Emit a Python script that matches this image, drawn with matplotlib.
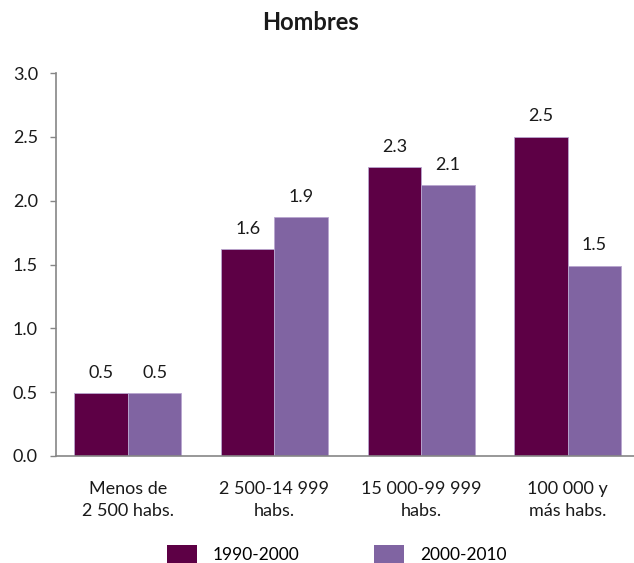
import matplotlib.pyplot as plt
import numpy as np
from matplotlib.patches import Patch

plt.rcParams['font.family'] = ['Lato', 'DejaVu Sans']

categorias = ["Menos de\n2 500 habs.", "2 500-14 999\nhabs.", "15 000-99 999\nhabs.", "100 000 y\nmás habs."]
periodos = ["1990-2000", "2000-2010"]
h_1990_2000 = [0.49, 1.62, 2.26, 2.50]
h_2000_2010 = [0.49, 1.87, 2.12, 1.49]

color_a = "#5D0045"
color_b = "#8064A2"
gris = "#868686"
texto = "#1a1a1a"

fig = plt.figure(figsize=(6.34, 5.63), dpi=100)
ax = fig.add_axes([56 / 634, 107 / 563, 585 / 634, 383 / 563])

x = np.arange(len(categorias))
w = 0.365
b1 = ax.bar(x - w / 2, h_1990_2000, w, color=color_a, edgecolor="#B9A6CF", linewidth=0.6)
b2 = ax.bar(x + w / 2, h_2000_2010, w, color=color_b, edgecolor="#B9A6CF", linewidth=0.6)

for bars in (b1, b2):
    for r in bars:
        v = r.get_height()
        ax.annotate(f"{v:.1f}", (r.get_x() + r.get_width() / 2, v),
                    xytext=(0, 9), textcoords="offset points",
                    ha="center", va="bottom", fontsize=13, color=texto)

ax.set_xlim(-0.49, 3.5)
ax.set_ylim(0, 3.0)
ax.set_yticks(np.arange(0, 3.01, 0.5))
ax.set_yticklabels([f"{t:.1f}" for t in np.arange(0, 3.01, 0.5)])
ax.set_xticks(x)
ax.set_xticklabels(categorias, linespacing=1.45)

ax.tick_params(axis="y", length=4, width=1, color=gris, pad=9, labelsize=13, labelcolor=texto)
ax.tick_params(axis="x", length=0, pad=18, labelsize=13, labelcolor=texto)
for s in ("top", "right"):
    ax.spines[s].set_visible(False)
for s in ("left", "bottom"):
    ax.spines[s].set_color(gris)
    ax.spines[s].set_linewidth(1.2)

fig.text(311 / 634, 1 - 22 / 563, "Hombres", ha="center", va="center",
         fontsize=17, fontweight="bold", color=texto)

handles = [Patch(facecolor=color_a), Patch(facecolor=color_b)]
fig.legend(handles, periodos, loc="center left", bbox_to_anchor=(167 / 634, 1 - 554 / 563),
           ncol=2, frameon=False, fontsize=12.5, handlelength=1.72, handleheight=1.27,
           handletextpad=0.92, columnspacing=4.3, borderpad=0, borderaxespad=0)

fig.savefig("out.png", dpi=100)
